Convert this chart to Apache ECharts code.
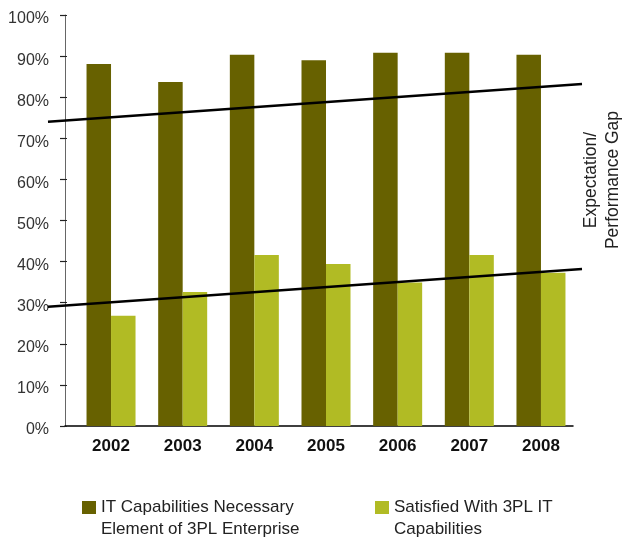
<!DOCTYPE html>
<html>
<head>
<meta charset="utf-8">
<script src="https://cdn.jsdelivr.net/npm/echarts@6/dist/echarts.min.js"></script>
<style>html,body{margin:0;padding:0;background:#fff}#c{width:623px;height:539px}</style>
</head>
<body>
<div id="c"></div>
<script>
var years = ['2002', '2003', '2004', '2005', '2006', '2007', '2008'];
var necessary = [88.1, 83.7, 90.3, 89.0, 90.8, 90.8, 90.3];
var satisfied = [26.8, 32.6, 41.6, 39.4, 34.9, 41.6, 37.3];
var seriesNames = ['IT Capabilities Necessary\nElement of 3PL Enterprise', 'Satisfied With 3PL IT\nCapabilities'];
// trend lines: [year position, percent]
var trendX = [2001.12, 2008.57];
var upperTrend = [74.0, 83.2];
var lowerTrend = [29.0, 38.2];
var gapLabel = 'Expectation/\nPerformance Gap';

var FONT = 'Liberation Sans, Arial, Helvetica, sans-serif';
var chart = echarts.init(document.getElementById('c'), null, {renderer: 'canvas'});
function pairs(xs, ys) { return xs.map(function (x, i) { return [x, ys[i]]; }); }
function legendText(n) { return ' \n' + n; }

var option = {
  animation: false,
  textStyle: {fontFamily: FONT},
  grid: [
    {left: 65, top: 15, width: 508, height: 411},
    {left: 75.2, top: 15, width: 501.6, height: 411},
    {left: 48, top: 15, width: 534, height: 411}
  ],
  xAxis: [
    {gridIndex: 0, type: 'value', min: 0, max: 1, axisLine: {show: true, lineStyle: {color: '#000', width: 1.5}}, axisTick: {show: false}, axisLabel: {show: false}, splitLine: {show: false}},
    {gridIndex: 1, type: 'category', data: years, boundaryGap: true, axisLine: {show: false}, axisTick: {show: false},
      axisLabel: {fontSize: 17, fontWeight: 'bold', color: '#111', margin: 12, fontFamily: FONT}},
    {gridIndex: 2, type: 'value', min: trendX[0], max: trendX[1], show: false}
  ],
  yAxis: [
    {gridIndex: 0, type: 'value', min: 0, max: 100, interval: 10,
      axisLine: {show: true, lineStyle: {color: '#666', width: 1}},
      axisTick: {show: true, length: 5, lineStyle: {color: '#222', width: 1.2}},
      axisLabel: {formatter: '{value}%', fontSize: 16, color: '#333', margin: 16, fontFamily: FONT, verticalAlign: 'top', lineHeight: 8},
      splitLine: {show: false}},
    {gridIndex: 0, type: 'value', min: 0, max: 100, interval: 10, position: 'left',
      axisLine: {show: false}, axisTick: {show: true, inside: true, length: 2, lineStyle: {color: '#222', width: 1.2}},
      axisLabel: {show: false}, splitLine: {show: false}},
    {gridIndex: 1, type: 'value', min: 0, max: 100, show: false},
    {gridIndex: 2, type: 'value', min: 0, max: 100, show: false}
  ],
  legend: [
    {data: [seriesNames[0]], left: 77, top: 469.5, itemWidth: 14, itemHeight: 13, icon: 'rect', formatter: legendText,
      textStyle: {fontSize: 17, color: '#222', lineHeight: 22, fontFamily: FONT}, itemGap: 10},
    {data: [seriesNames[1]], left: 370, top: 469.5, itemWidth: 14, itemHeight: 13, icon: 'rect', formatter: legendText,
      textStyle: {fontSize: 17, color: '#222', lineHeight: 22, fontFamily: FONT}, itemGap: 10}
  ],
  graphic: [
    {type: 'text', x: 602, y: 180, rotation: Math.PI / 2,
      style: {text: gapLabel, font: '17.5px ' + FONT, fill: '#222', align: 'center', verticalAlign: 'middle', lineHeight: 22}}
  ],
  series: [
    {name: seriesNames[0], type: 'bar', xAxisIndex: 1, yAxisIndex: 2, data: necessary, barWidth: 24.5, barGap: '0%', itemStyle: {color: '#676100'}},
    {name: seriesNames[1], type: 'bar', xAxisIndex: 1, yAxisIndex: 2, data: satisfied, barWidth: 24.5, barGap: '0%', itemStyle: {color: '#B1BB24'}},
    {type: 'line', xAxisIndex: 2, yAxisIndex: 3, data: pairs(trendX, upperTrend), symbol: 'none', lineStyle: {color: '#000', width: 2.5}, z: 5},
    {type: 'line', xAxisIndex: 2, yAxisIndex: 3, data: pairs(trendX, lowerTrend), symbol: 'none', lineStyle: {color: '#000', width: 2.5}, z: 5}
  ]
};
chart.setOption(option);
</script>
</body>
</html>
